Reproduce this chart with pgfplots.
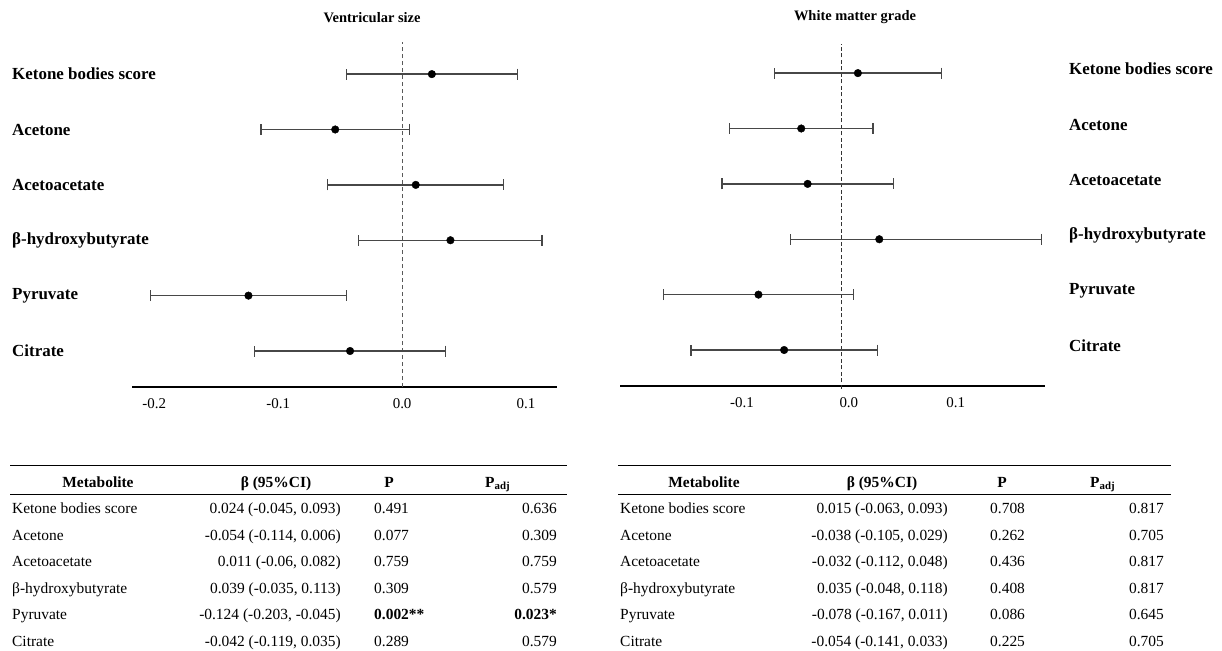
\documentclass[border=0pt]{standalone}
\usepackage{fontspec}
\setmainfont{Liberation Serif}
\usepackage{pgfplots}
\pgfplotsset{compat=1.18}
\usepackage{pgfplotstable}

\pgfplotstableread{
r b lo hi
6 0.024 -0.045 0.093
5 -0.054 -0.114 0.006
4 0.011 -0.060 0.082
3 0.039 -0.035 0.113
2 -0.124 -0.203 -0.045
1 -0.042 -0.119 0.035
}\vent
\pgfplotstableread{
r b lo hi
6 0.015 -0.063 0.093
5 -0.038 -0.105 0.029
4 -0.032 -0.112 0.048
3 0.035 -0.048 0.187
2 -0.078 -0.167 0.011
1 -0.054 -0.141 0.033
}\white

\pgfplotsset{forest/.style={
  scale only axis, width=425bp, height=345bp,
  ymin=0.35, ymax=6.58,
  axis x line=bottom,
  x axis line style={-, line width=1.7bp, black},
  y axis line style={draw=none},
  major tick length=0pt,
  xtick style={draw=none}, ytick style={draw=none},
  ytick={1,...,6},
  yticklabels={Citrate,Pyruvate,β-hydroxybutyrate,Acetoacetate,Acetone,Ketone bodies score},
  yticklabel style={font=\fontsize{17}{19}\selectfont\bfseries, anchor=west, inner sep=0pt},
  xticklabel style={font=\fontsize{15}{17}\selectfont, anchor=north, inner sep=0pt, yshift=-11bp},
  clip=false,
}}
\newcommand\ciplot[1]{%
  \addplot[only marks, mark=*, mark size=3.8bp, black,
    error bars/.cd, x dir=both, x explicit, error mark=|,
    error bar style={line width=1.3bp, color=black!72},
    error mark options={line width=1.3bp, color=black!72, mark size=5.5bp}]
    table[x=b, y=r, x error plus expr=\thisrow{hi}-\thisrow{b}, x error minus expr=\thisrow{b}-\thisrow{lo}] {#1};}

\tikzset{tf/.style={font=\fontsize{15.5}{17}\selectfont, inner sep=0pt},
         th/.style={font=\fontsize{15.5}{17}\selectfont\bfseries, inner sep=0pt}}
\newcommand\trow[5]{%
  \node[tf, anchor=base west] at (\cName bp,-#1bp) {#2};
  \node[tf, anchor=base east] at (\cBeta bp,-#1bp) {#3};
  \node[tf, anchor=base west] at (\cP bp,-#1bp) {#4};
  \node[tf, anchor=base east] at (\cPadj bp,-#1bp) {#5};}

\begin{document}
\begin{tikzpicture}
\useasboundingbox (0,0) rectangle (1222bp,-651bp);

\node[font=\fontsize{14.5}{16}\selectfont\bfseries, inner sep=0pt] at (372bp,-18bp) {Ventricular size};
\node[font=\fontsize{14.5}{16}\selectfont\bfseries, inner sep=0pt] at (855bp,-17bp) {White matter grade};

\begin{axis}[forest, at={(132bp,-387bp)}, anchor=south west,
  xmin=-0.218, xmax=0.125,
  axis y line=left,
  xtick={-0.2,-0.1,0,0.1}, xticklabels={-0.2,-0.1,0.0,0.1},
  yticklabel style={xshift=-120bp}]
  \addplot[color=black!65, line width=1bp, dash pattern=on 4bp off 3bp] coordinates {(0,0.35) (0,6.58)};
  \ciplot{\vent}
\end{axis}

\begin{axis}[forest, at={(620bp,-386bp)}, anchor=south west,
  xmin=-0.2075, xmax=0.19,
  axis y line=right,
  xtick={-0.1,0,0.1}, xticklabels={-0.1,0.0,0.1},
  xticklabel style={xshift=7bp},
  yticklabel style={xshift=24bp, yshift=4bp}]
  \addplot[color=black!80, line width=0.9bp, dash pattern=on 4bp off 2.5bp] coordinates {(0,0.3) (0,6.53)};
  \ciplot{\white}
\end{axis}

% left table
\draw[line width=0.8bp] (10bp,-465bp) -- (567bp,-465bp);
\draw[line width=0.8bp] (10bp,-494bp) -- (567bp,-494bp);
\node[th, anchor=base] at (98bp,-487bp) {Metabolite};
\node[th, anchor=base] at (276bp,-487bp) {β (95\%CI)};
\node[th, anchor=base] at (389bp,-487bp) {P};
\node[th, anchor=base west] at (485bp,-487bp) {P\textsubscript{adj}};
\def\cName{12}\def\cBeta{341}\def\cP{374}\def\cPadj{557}
\trow{513}{Ketone bodies score}{0.024 (-0.045, 0.093)}{0.491}{0.636}
\trow{540}{Acetone}{-0.054 (-0.114, 0.006)}{0.077}{0.309}
\trow{566}{Acetoacetate}{0.011 (-0.06, 0.082)}{0.759}{0.759}
\trow{593}{β-hydroxybutyrate}{0.039 (-0.035, 0.113)}{0.309}{0.579}
\trow{619}{Pyruvate}{-0.124 (-0.203, -0.045)}{\textbf{0.002**}}{\textbf{0.023*}}
\trow{646}{Citrate}{-0.042 (-0.119, 0.035)}{0.289}{0.579}

% right table
\draw[line width=0.8bp] (618bp,-465bp) -- (1171bp,-465bp);
\draw[line width=0.8bp] (618bp,-494bp) -- (1171bp,-494bp);
\node[th, anchor=base] at (704bp,-487bp) {Metabolite};
\node[th, anchor=base] at (882bp,-487bp) {β (95\%CI)};
\node[th, anchor=base] at (1002bp,-487bp) {P};
\node[th, anchor=base west] at (1090bp,-487bp) {P\textsubscript{adj}};
\def\cName{620}\def\cBeta{948}\def\cP{990}\def\cPadj{1164}
\trow{513}{Ketone bodies score}{0.015 (-0.063, 0.093)}{0.708}{0.817}
\trow{540}{Acetone}{-0.038 (-0.105, 0.029)}{0.262}{0.705}
\trow{566}{Acetoacetate}{-0.032 (-0.112, 0.048)}{0.436}{0.817}
\trow{593}{β-hydroxybutyrate}{0.035 (-0.048, 0.118)}{0.408}{0.817}
\trow{619}{Pyruvate}{-0.078 (-0.167, 0.011)}{0.086}{0.645}
\trow{646}{Citrate}{-0.054 (-0.141, 0.033)}{0.225}{0.705}
\end{tikzpicture}
\end{document}
